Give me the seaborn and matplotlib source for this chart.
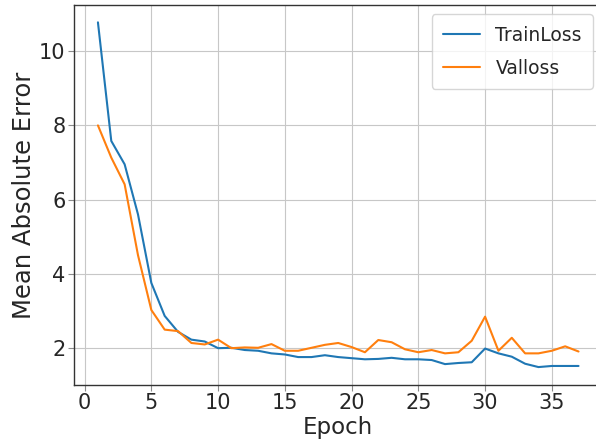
import numpy as np
import pandas as pd
import matplotlib
matplotlib.use("Agg")
import matplotlib.pyplot as plt
import seaborn as sns

epochs = list(range(1, 38))
train_loss = [10.78, 7.58, 6.95, 5.6, 3.75, 2.86, 2.43, 2.22, 2.17, 1.99,
              2.0, 1.94, 1.92, 1.85, 1.82, 1.75, 1.75, 1.80, 1.75, 1.72,
              1.69, 1.70, 1.73, 1.69, 1.69, 1.67, 1.56, 1.59, 1.61, 1.98,
              1.85, 1.76, 1.57, 1.48, 1.51, 1.51, 1.51]
val_loss = [8.0, 7.13, 6.41, 4.5, 3.02, 2.49, 2.45, 2.13, 2.09, 2.22,
            1.99, 2.01, 2.0, 2.1, 1.92, 1.92, 2.0, 2.08, 2.13, 2.02,
            1.88, 2.21, 2.15, 1.96, 1.88, 1.94, 1.85, 1.88, 2.19, 2.84,
            1.92, 2.27, 1.85, 1.85, 1.92, 2.04, 1.90]
series_names = ["TrainLoss", "Valloss"]
x_ticks = [0, 5, 10, 15, 20, 25, 30, 35]
y_ticks = [2, 4, 6, 8, 10]

df = pd.DataFrame({
    "Epoch": epochs * 2,
    "Loss": train_loss + val_loss,
    "Series": [series_names[0]] * len(epochs) + [series_names[1]] * len(epochs),
})

sns.set_style("whitegrid", {"axes.edgecolor": "0.2", "grid.color": "0.78",
                            "xtick.bottom": True, "ytick.left": True})
fig = plt.figure(figsize=(5.96, 4.47), dpi=100)
ax = fig.add_axes([0.124, 0.139, 0.887, 0.85])
sns.lineplot(data=df, x="Epoch", y="Loss", hue="Series",
             palette=["#1f77b4", "#ff7f0e"], linewidth=1.5, ax=ax)
ax.set_xlabel("Epoch", fontsize=16.5, labelpad=2)
ax.set_ylabel("Mean Absolute Error", fontsize=17.5, labelpad=2)
ax.tick_params(axis="both", labelsize=15, length=4.5, color="0.55",
               width=0.8, pad=1.5)
ax.set_xticks(x_ticks)
ax.set_yticks(y_ticks)
ax.set_xlim(-0.8, 38.8)
ax.set_ylim(1.0, 11.25)
for s in ax.spines.values():
    s.set_linewidth(1.0)
leg = ax.legend(loc="upper right", fontsize=13.5, frameon=True, fancybox=True,
                labelspacing=0.75, borderpad=0.6)
leg.set_title(None)
fig.savefig("out.png", dpi=100)
